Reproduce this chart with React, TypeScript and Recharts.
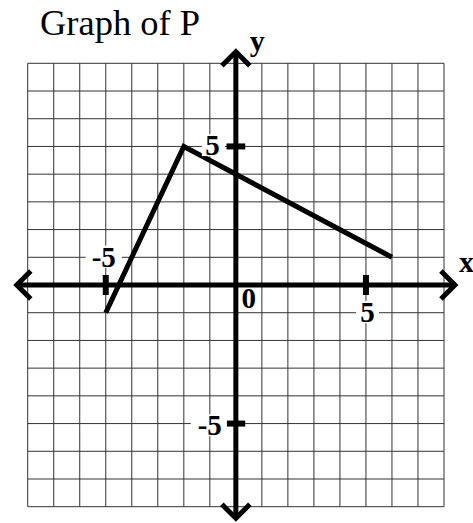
import { LineChart, Line, XAxis, YAxis, CartesianGrid, ReferenceLine, ReferenceDot, Customized } from 'recharts'

const gridTicks = [-8, -7, -6, -5, -4, -3, -2, -1, 0, 1, 2, 3, 4, 5, 6, 7, 8]
const graphP = [
  { x: -5, y: -1 },
  { x: -2, y: 5 },
  { x: 6, y: 1 },
]
const markedTicks = [-5, 5]
const axisReach = 8.42
const tickHalf = 0.36
const title = 'Graph of P'

const FONT = '"Liberation Serif", "Times New Roman", serif'

function AxisArrow(props: any) {
  const { x1, y1, x2, y2 } = props
  const len = Math.hypot(x2 - x1, y2 - y1) || 1
  const ux = (x2 - x1) / len
  const uy = (y2 - y1) / len
  const arm = 14
  const head = (tx: number, ty: number, sx: number, sy: number) =>
    `M${tx - sx * arm - sy * arm},${ty - sy * arm + sx * arm} L${tx},${ty} L${tx - sx * arm + sy * arm},${ty - sy * arm - sx * arm}`
  return (
    <g>
      <line x1={x1} y1={y1} x2={x2} y2={y2} stroke="#000" strokeWidth={5} />
      <path d={head(x2, y2, ux, uy)} fill="none" stroke="#000" strokeWidth={5} />
      <path d={head(x1, y1, -ux, -uy)} fill="none" stroke="#000" strokeWidth={5} />
    </g>
  )
}

function TickMark(props: any) {
  const { x1, y1, x2, y2 } = props
  return <line x1={x1} y1={y1} x2={x2} y2={y2} stroke="#000" strokeWidth={6} />
}

function LabelText({ cx, cy, text, dx, dy, anchor = 'middle', bg = false, size = 29 }: any) {
  const w = text.length * size * 0.45
  const tx = cx + dx
  const left = anchor === 'end' ? tx - w : anchor === 'start' ? tx : tx - w / 2
  return (
    <g>
      {bg && <rect x={left - 5} y={cy + dy - size * 0.72} width={w + 10} height={size * 0.76} fill="#fff" />}
      <text x={tx} y={cy + dy} textAnchor={anchor} fontFamily={FONT} fontWeight="bold" fontSize={size} fill="#000">
        {text}
      </text>
    </g>
  )
}

export default function App() {
  return (
    <div style={{ position: 'absolute', left: 0, top: 0 }}>
      <LineChart width={473} height={523} data={graphP} margin={{ top: 63.3, left: 27.7, right: 29, bottom: 16.3 }}>
        <XAxis hide type="number" dataKey="x" domain={[-8, 8]} ticks={gridTicks} allowDataOverflow />
        <YAxis hide type="number" domain={[-8, 8]} ticks={gridTicks} allowDataOverflow />
        <CartesianGrid stroke="#333" strokeWidth={1} />
        <Customized
          component={() => (
            <text x={40} y={35} fontFamily={FONT} fontSize={36.5} fill="#000">
              {title}
            </text>
          )}
        />
        <ReferenceDot x={0} y={5} ifOverflow="visible" shape={(p: any) => <LabelText {...p} text="5" dx={-16} dy={8.5} anchor="end" bg />} />
        <ReferenceDot x={0} y={-5} ifOverflow="visible" shape={(p: any) => <LabelText {...p} text="-5" dx={-14} dy={11.5} anchor="end" bg />} />
        <ReferenceDot x={-5} y={0} ifOverflow="visible" shape={(p: any) => <LabelText {...p} text="-5" dx={-2} dy={-18.5} bg />} />
        <ReferenceDot x={5} y={0} ifOverflow="visible" shape={(p: any) => <LabelText {...p} text="5" dx={1.5} dy={37} bg />} />
        <ReferenceDot x={0} y={0} ifOverflow="visible" shape={(p: any) => <LabelText {...p} text="0" dx={13} dy={23} />} />
        <ReferenceDot x={0} y={axisReach} ifOverflow="visible" shape={(p: any) => <LabelText {...p} text="y" dx={14} dy={-1} anchor="start" size={30} />} />
        <ReferenceDot x={axisReach} y={0} ifOverflow="visible" shape={(p: any) => <LabelText {...p} text="x" dx={4} dy={-13} anchor="start" size={30} />} />
        <ReferenceLine
          ifOverflow="visible"
          segment={[{ x: -axisReach, y: 0 }, { x: axisReach, y: 0 }]}
          shape={AxisArrow}
        />
        <ReferenceLine
          ifOverflow="visible"
          segment={[{ x: 0, y: -axisReach }, { x: 0, y: axisReach }]}
          shape={AxisArrow}
        />
        {markedTicks.map((v) => (
          <ReferenceLine key={'xt' + v} ifOverflow="visible" segment={[{ x: v, y: -tickHalf }, { x: v, y: tickHalf }]} shape={TickMark} />
        ))}
        {markedTicks.map((v) => (
          <ReferenceLine key={'yt' + v} ifOverflow="visible" segment={[{ x: -tickHalf, y: v }, { x: tickHalf, y: v }]} shape={TickMark} />
        ))}
        <Line type="linear" dataKey="y" stroke="#000" strokeWidth={5} dot={false} isAnimationActive={false} />
      </LineChart>
    </div>
  )
}
